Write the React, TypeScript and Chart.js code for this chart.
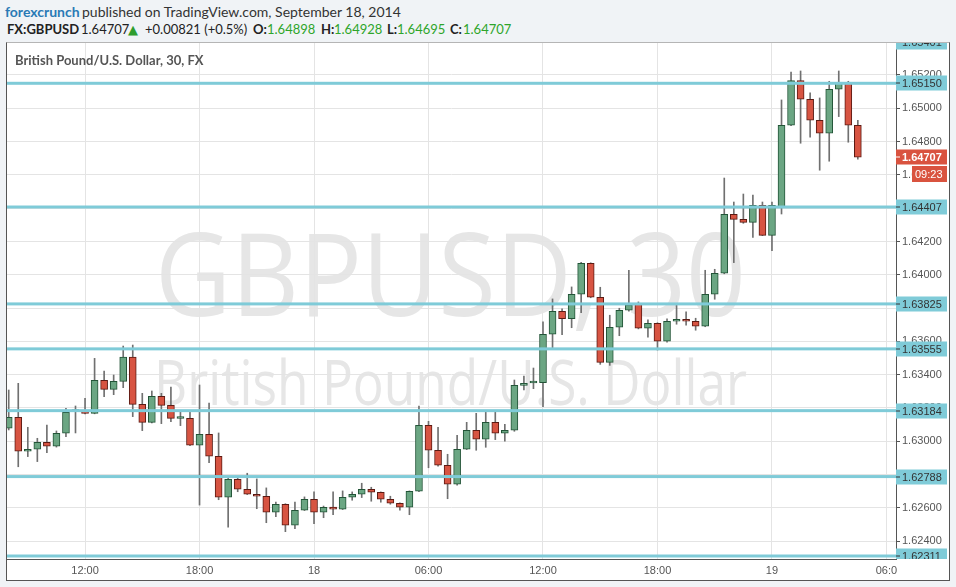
import React, { useEffect, useRef } from "react";
import { Chart, registerables } from "chart.js";
Chart.register(...registerables);

// ---- data (30-minute candles, FX:GBPUSD, 17-19 Sep 2014) ----
const times = [
  "17 08:00", "17 08:30", "17 09:00", "17 09:30", "17 10:00", "17 10:30", "17 11:00", "17 11:30",
  "17 12:00", "17 12:30", "17 13:00", "17 13:30", "17 14:00", "17 14:30", "17 15:00", "17 15:30",
  "17 16:00", "17 16:30", "17 17:00", "17 17:30", "17 18:00", "17 18:30", "17 19:00", "17 19:30",
  "17 20:00", "17 20:30", "17 21:00", "17 21:30", "17 22:00", "17 22:30", "17 23:00", "17 23:30",
  "18 00:00", "18 00:30", "18 01:00", "18 01:30", "18 02:00", "18 02:30", "18 03:00", "18 03:30",
  "18 04:00", "18 04:30", "18 05:00", "18 05:30", "18 06:00", "18 06:30", "18 07:00", "18 07:30",
  "18 08:00", "18 08:30", "18 09:00", "18 09:30", "18 10:00", "18 10:30", "18 11:00", "18 11:30",
  "18 12:00", "18 12:30", "18 13:00", "18 13:30", "18 14:00", "18 14:30", "18 15:00", "18 15:30",
  "18 16:00", "18 16:30", "18 17:00", "18 17:30", "18 18:00", "18 18:30", "18 19:00", "18 19:30",
  "18 20:00", "18 20:30", "18 21:00", "18 21:30", "18 22:00", "18 22:30", "18 23:00", "18 23:30",
  "19 00:00", "19 00:30", "19 01:00", "19 01:30", "19 02:00", "19 02:30", "19 03:00", "19 03:30",
  "19 04:00", "19 04:30",
];

const opens = [
  1.63078, 1.63144, 1.62940, 1.62952, 1.62994, 1.62970, 1.63048, 1.63179, 1.63182, 1.63168,
  1.63366, 1.63312, 1.63360, 1.63505, 1.63222, 1.63114, 1.63270, 1.63216, 1.63137, 1.63138,
  1.62976, 1.63042, 1.62910, 1.62664, 1.62772, 1.62712, 1.62682, 1.62670, 1.62574, 1.62622,
  1.62496, 1.62586, 1.62652, 1.62574, 1.62605, 1.62592, 1.62664, 1.62682, 1.62712, 1.62694,
  1.62652, 1.62628, 1.62604, 1.62700, 1.63096, 1.62946, 1.62856, 1.62742, 1.62952, 1.63066,
  1.63012, 1.63114, 1.63048, 1.63066, 1.63336, 1.63350, 1.63352, 1.63643, 1.63781, 1.63736,
  1.63883, 1.64069, 1.63865, 1.63474, 1.63685, 1.63787, 1.63825, 1.63679, 1.63709, 1.63601,
  1.63721, 1.63733, 1.63721, 1.63691, 1.63883, 1.64009, 1.64363, 1.64333, 1.64315, 1.64417,
  1.64237, 1.64407, 1.64898, 1.65166, 1.65054, 1.64928, 1.64850, 1.65114, 1.65150, 1.64898,
];
const highs = [
  1.63308, 1.63348, 1.63084, 1.63018, 1.63098, 1.63062, 1.63198, 1.63212, 1.63258, 1.63498,
  1.63422, 1.63398, 1.63572, 1.63578, 1.63288, 1.63302, 1.63288, 1.63326, 1.63178, 1.63178,
  1.63338, 1.63230, 1.63050, 1.62778, 1.62778, 1.62808, 1.62774, 1.62720, 1.62635, 1.62625,
  1.62635, 1.62666, 1.62696, 1.62611, 1.62696, 1.62702, 1.62696, 1.62748, 1.62724, 1.62696,
  1.62670, 1.62630, 1.62702, 1.63212, 1.63120, 1.63084, 1.62922, 1.63036, 1.63114, 1.63168,
  1.63176, 1.63176, 1.63102, 1.63368, 1.63392, 1.63440, 1.63718, 1.63855, 1.63795, 1.63927,
  1.64075, 1.64072, 1.63925, 1.63757, 1.63799, 1.64027, 1.63837, 1.63729, 1.63712, 1.63735,
  1.63819, 1.63777, 1.63739, 1.64027, 1.64033, 1.64581, 1.64437, 1.64485, 1.64479, 1.64437,
  1.64437, 1.65050, 1.65218, 1.65224, 1.65092, 1.65062, 1.65162, 1.65224, 1.65162, 1.64928,
];
const lows = [
  1.63068, 1.62847, 1.62908, 1.62878, 1.62932, 1.62965, 1.63028, 1.63050, 1.63165, 1.63165,
  1.63268, 1.63280, 1.63322, 1.63148, 1.63064, 1.63110, 1.63106, 1.63118, 1.63094, 1.62974,
  1.62617, 1.62872, 1.62649, 1.62484, 1.62697, 1.62680, 1.62595, 1.62511, 1.62547, 1.62457,
  1.62475, 1.62584, 1.62505, 1.62541, 1.62559, 1.62590, 1.62646, 1.62662, 1.62640, 1.62634,
  1.62622, 1.62586, 1.62559, 1.62698, 1.62841, 1.62850, 1.62655, 1.62736, 1.62950, 1.62946,
  1.62964, 1.63010, 1.63000, 1.63060, 1.63308, 1.63316, 1.63208, 1.63562, 1.63640, 1.63682,
  1.63772, 1.63862, 1.63462, 1.63456, 1.63634, 1.63781, 1.63675, 1.63625, 1.63548, 1.63595,
  1.63703, 1.63697, 1.63667, 1.63688, 1.63853, 1.64006, 1.64073, 1.64309, 1.64225, 1.64235,
  1.64145, 1.64365, 1.64895, 1.64790, 1.64826, 1.64628, 1.64682, 1.64950, 1.64796, 1.64695,
];
const closes = [
  1.63144, 1.62940, 1.62952, 1.62994, 1.62970, 1.63048, 1.63174, 1.63188, 1.63168, 1.63366,
  1.63312, 1.63360, 1.63505, 1.63222, 1.63114, 1.63270, 1.63216, 1.63138, 1.63140, 1.62976,
  1.63042, 1.62910, 1.62664, 1.62772, 1.62712, 1.62682, 1.62670, 1.62574, 1.62622, 1.62496,
  1.62586, 1.62652, 1.62574, 1.62604, 1.62592, 1.62664, 1.62682, 1.62712, 1.62694, 1.62652,
  1.62628, 1.62604, 1.62700, 1.63096, 1.62946, 1.62856, 1.62742, 1.62952, 1.63066, 1.63012,
  1.63114, 1.63048, 1.63066, 1.63336, 1.63348, 1.63353, 1.63643, 1.63781, 1.63736, 1.63883,
  1.64069, 1.63865, 1.63474, 1.63685, 1.63787, 1.63819, 1.63679, 1.63709, 1.63601, 1.63721,
  1.63733, 1.63721, 1.63691, 1.63883, 1.64009, 1.64363, 1.64333, 1.64315, 1.64417, 1.64237,
  1.64417, 1.64898, 1.65166, 1.65054, 1.64928, 1.64850, 1.65114, 1.65150, 1.64898, 1.64707,
];

// horizontal support / resistance levels drawn on the chart
const levels = [1.65401, 1.6515, 1.64407, 1.63825, 1.63555, 1.63184, 1.62788, 1.62311];
const lastPrice = 1.64707;
const countdown = "09:23";

// axes
const yTicks = [1.624, 1.626, 1.628, 1.63, 1.632, 1.634, 1.636, 1.638, 1.64, 1.642, 1.644, 1.646, 1.648, 1.65, 1.652];
const xTickHours = [12, 18, 24, 30, 36, 42, 48, 54];
const xTickLabels = ["12:00", "18:00", "18", "06:00", "12:00", "18:00", "19", "06:0"];
const yMin = 1.62293;
const yMax = 1.65392;
const xMin = 7.91;
const xMax = 54.5;

const watermarkMain = "GBPUSD, 30";
const watermarkSub = "British Pound/U.S. Dollar";

const toHours = (s: string) => {
  const [d, hm] = s.split(" ");
  const [h, m] = hm.split(":").map(Number);
  return (Number(d) - 17) * 24 + h + m / 60;
};

const GREEN_FILL = "#6ba683";
const GREEN_EDGE = "#225437";
const RED_FILL = "#d75442";
const RED_EDGE = "#5b1a13";
const LEVEL = "#7fcbd8";
const PRICE_RED = "#d9533f";
const AXIS_FONT = "'Liberation Sans', Arial, sans-serif";

const overlay = {
  id: "overlay",
  beforeDraw(chart: any) {
    const ctx = chart.ctx;
    const ca = chart.chartArea;
    const cx = (ca.left + ca.right) / 2 - 1;
    ctx.save();
    ctx.fillStyle = "#e6e6e6";
    ctx.textAlign = "center";
    ctx.textBaseline = "alphabetic";
    ctx.font = "116px 'Open Sans', sans-serif";
    let w = ctx.measureText(watermarkMain).width;
    ctx.translate(cx, 316);
    ctx.scale(591 / w, 1);
    ctx.fillText(watermarkMain, 0, 0);
    ctx.restore();
    ctx.save();
    ctx.fillStyle = "#e6e6e6";
    ctx.textAlign = "center";
    ctx.font = "62px 'Open Sans', sans-serif";
    w = ctx.measureText(watermarkSub).width;
    ctx.translate(cx, 405);
    ctx.scale(593 / w, 1);
    ctx.fillText(watermarkSub, 0, 0);
    ctx.restore();
  },
  afterDatasetsDraw(chart: any) {
    const ctx = chart.ctx;
    const ca = chart.chartArea;
    const ys = chart.scales.y;
    ctx.save();
    ctx.beginPath();
    ctx.rect(ca.left, ca.top, ca.right - ca.left, ca.bottom - ca.top);
    ctx.clip();
    ctx.fillStyle = LEVEL;
    levels.forEach((v) => {
      const y = ys.getPixelForValue(v);
      ctx.fillRect(ca.left, y - 1.5, ca.right - ca.left, 3);
    });
    ctx.restore();
  },
  afterDraw(chart: any) {
    const ctx = chart.ctx;
    const ca = chart.chartArea;
    const ys = chart.scales.y;
    const x0 = ca.right;
    ctx.save();
    ctx.beginPath();
    ctx.rect(x0, ca.top, 60, ca.bottom - ca.top);
    ctx.clip();
    ctx.font = "11px " + AXIS_FONT;
    ctx.textBaseline = "middle";
    ctx.textAlign = "left";
    levels.forEach((v) => {
      const y = Math.round(ys.getPixelForValue(v));
      ctx.fillStyle = LEVEL;
      ctx.fillRect(x0, y - 7.5, 51, 15);
      ctx.fillStyle = "#333";
      ctx.fillRect(x0, y - 0.5, 4, 1);
      ctx.fillText(v.toFixed(5), x0 + 6, y + 0.5);
    });
    // last price
    const py = Math.round(ys.getPixelForValue(lastPrice));
    ctx.fillStyle = PRICE_RED;
    ctx.fillRect(x0, py - 7.5, 51, 15);
    ctx.fillStyle = "#fff";
    ctx.fillRect(x0, py - 0.5, 4, 1);
    ctx.font = "bold 11px " + AXIS_FONT;
    ctx.fillText(lastPrice.toFixed(5), x0 + 6, py + 0.5);
    ctx.fillStyle = PRICE_RED;
    ctx.fillRect(x0 + 16, py + 9, 35, 16);
    ctx.fillStyle = "#fff";
    ctx.font = "11px " + AXIS_FONT;
    ctx.fillText(countdown, x0 + 19, py + 17.5);
    ctx.restore();
  },
};

export default function App() {
  const ref = useRef<HTMLCanvasElement | null>(null);

  useEffect(() => {
    document.body.style.margin = "0";
    const hours = times.map(toHours);
    const up = opens.map((o, i) => closes[i] >= o);
    const chart = new Chart(ref.current as HTMLCanvasElement, {
      type: "bar",
      data: {
        datasets: [
          {
            label: "body",
            data: hours.map((h, i) => ({ x: h, y: [opens[i], closes[i]] })) as any,
            backgroundColor: up.map((u) => (u ? GREEN_FILL : RED_FILL)),
            borderColor: up.map((u) => (u ? GREEN_EDGE : RED_EDGE)),
            borderWidth: 1,
            borderSkipped: false,
            barThickness: 7,
            minBarLength: 2,
            grouped: false,
            order: 1,
          } as any,
          {
            label: "wick",
            data: hours.map((h, i) => ({ x: h, y: [lows[i], highs[i]] })) as any,
            backgroundColor: "#707070",
            borderWidth: 0,
            barThickness: 1,
            grouped: false,
            order: 2,
          } as any,
        ],
      },
      options: {
        animation: false,
        responsive: false,
        devicePixelRatio: 1,
        layout: { padding: { left: 7, top: 43, right: 6, bottom: 7 } },
        plugins: { legend: { display: false }, tooltip: { enabled: false } },
        scales: {
          x: {
            type: "linear",
            min: xMin,
            max: xMax,
            offset: false,
            afterBuildTicks: (s: any) => {
              s.ticks = xTickHours.map((v) => ({ value: v }));
            },
            afterFit: (s: any) => {
              s.height = 21;
            },
            ticks: {
              autoSkip: false,
              maxRotation: 0,
              padding: 5,
              color: "#555",
              font: { size: 11, family: AXIS_FONT },
              callback: (v: any) => {
                const i = xTickHours.indexOf(Number(v));
                return i >= 0 ? xTickLabels[i] : "";
              },
            },
            grid: { color: "#e4e4e4", drawTicks: false, offset: false },
            border: { color: "#555", width: 1 },
          },
          y: {
            type: "linear",
            position: "right",
            min: yMin,
            max: yMax,
            afterBuildTicks: (s: any) => {
              s.ticks = yTicks.map((v) => ({ value: v }));
            },
            afterFit: (s: any) => {
              s.width = 54;
            },
            ticks: {
              padding: 2,
              color: "#555",
              font: { size: 11, family: AXIS_FONT },
              callback: (v: any) => Number(v).toFixed(5),
            },
            grid: { color: "#e4e4e4", tickColor: "#555", tickLength: 4 },
            border: { color: "#555", width: 1 },
          },
        },
      } as any,
      plugins: [overlay],
    });
    return () => chart.destroy();
  }, []);

  const hdr = "Lato, 'Open Sans', sans-serif";
  const seg = (left: number, top: number, text: string, style: any) => (
    <span style={{ position: "absolute", left, top, whiteSpace: "nowrap", ...style }}>{text}</span>
  );
  const l1 = { fontSize: 14, lineHeight: "14px", fontFamily: hdr, color: "#333" };
  const l2 = { fontSize: 13, lineHeight: "13px", fontFamily: hdr, color: "#222" };
  const green = "#2ea52a";

  return (
    <div style={{ position: "fixed", left: 0, top: 0, width: 956, height: 587, background: "#f0f3f6", overflow: "hidden" }}>
      {seg(5, 5, "forexcrunch", { ...l1, color: "#2a7ab5", fontWeight: 700 })}
      {seg(82, 5, "published on TradingView.com, September 18, 2014", l1)}
      {seg(7, 23, "FX:GBPUSD", { ...l2, fontWeight: 700 })}
      {seg(81, 23, "1.64707", l2)}
      {seg(128, 23, "▲", { ...l2, color: "#2e9d2e", fontFamily: "'DejaVu Sans', sans-serif", fontSize: 13 })}
      {seg(145, 23, "+0.00821 (+0.5%)", l2)}
      {seg(253, 23, "O:", { ...l2, fontWeight: 700 })}
      {seg(267, 23, "1.64898", { ...l2, color: green })}
      {seg(321, 23, "H:", { ...l2, fontWeight: 700 })}
      {seg(334, 23, "1.64928", { ...l2, color: green })}
      {seg(387, 23, "L:", { ...l2, fontWeight: 700 })}
      {seg(397, 23, "1.64695", { ...l2, color: green })}
      {seg(450, 23, "C:", { ...l2, fontWeight: 700 })}
      {seg(463, 23, "1.64707", { ...l2, color: green })}
      <div
        style={{
          position: "absolute",
          left: 6,
          top: 42,
          width: 942,
          height: 537,
          background: "#fff",
          borderLeft: "1px solid #555",
          borderRight: "1px solid #555",
          borderBottom: "1px solid #555",
          borderTop: "1px solid #b5b5b5",
        }}
      />
      <canvas ref={ref} width={956} height={587} style={{ position: "absolute", left: 0, top: 0, width: 956, height: 587 }} />
      {seg(15, 54, "British Pound/U.S. Dollar, 30, FX", {
        fontSize: 13,
        lineHeight: "13px",
        fontWeight: 700,
        color: "#555",
        fontFamily: hdr,
      })}
    </div>
  );
}
